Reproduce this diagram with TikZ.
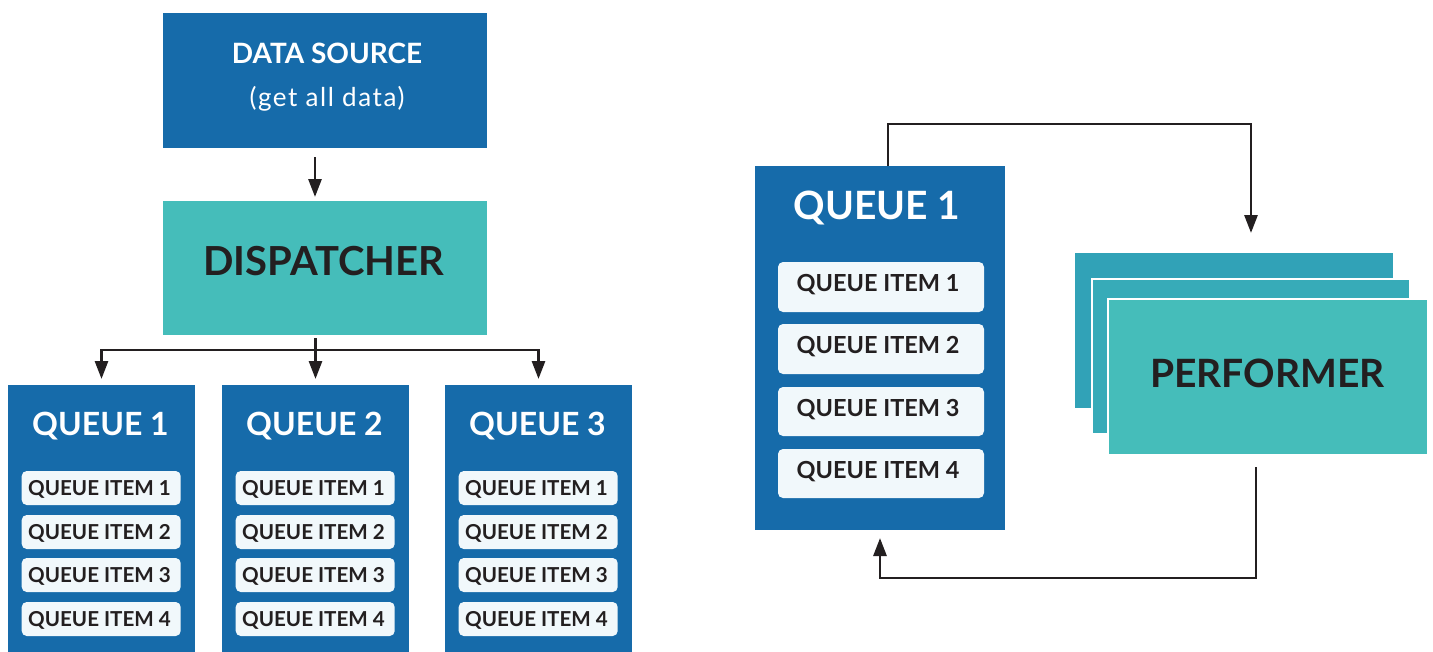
\documentclass[tikz,border=0pt]{standalone}
\usepackage{fontspec}
\setmainfont{Lato}
\usetikzlibrary{arrows.meta}
\definecolor{qblue}{HTML}{166BAA}
\definecolor{teal1}{HTML}{45BDBA}
\definecolor{teal2}{HTML}{37ABB8}
\definecolor{teal3}{HTML}{31A2B7}
\definecolor{itembg}{HTML}{F1F8FB}
\definecolor{ink}{HTML}{231F20}
\tikzset{
  box/.style={inner sep=0pt, outer sep=0pt, anchor=north west},
  bluebox/.style={box, fill=qblue},
  tealbox/.style={box, fill=teal1},
  itembox/.style={box, fill=itembg, rounded corners=5pt},
  lbl/.style={inner sep=0pt, outer sep=0pt, anchor=base},
  whitetitle/.style={lbl, text=white, font=\bfseries\fontsize{#1}{#1}\selectfont},
  inktitle/.style={lbl, text=ink, font=\bfseries\fontsize{#1}{#1}\selectfont},
  arr/.style={draw=ink, line width=2.8pt, -{Triangle[length=18pt,width=13pt]}},
}
\begin{document}
\begin{tikzpicture}[x=1pt, y=-1pt]
\useasboundingbox (0,0) rectangle (1433,651);
\clip (0,0) rectangle (1433,651);
\fill[white] (0,0) rectangle (1433,651);

% ---------- left diagram ----------
\node[bluebox, minimum width=324pt, minimum height=135pt] (ds) at (163,13) {};
\node[whitetitle=28] (dst) at (327,63) {DATA SOURCE};
\node[lbl, text=white, font=\fontsize{26}{26}\selectfont\addfontfeatures{LetterSpace=6}] (dss) at (327,106) {(get all data)};

\node[tealbox, minimum width=324pt, minimum height=134pt] (disp) at (163,201) {};
\node[inktitle=40] (dispt) at (323.5,275) {DISPATCHER};

\foreach \n/\x in {1/8,2/222,3/445}{
  \node[bluebox, minimum width=187pt, minimum height=280pt] (q\n) at (\x,385) {};
  \node[whitetitle=32] (q\n t) at (\x+92.5,435) {QUEUE \n};
  \foreach \k/\y in {1/471,2/515,3/558,4/602}{
    \node[itembox, minimum width=159pt, minimum height=34pt] (q\n i\k) at (\x+13.7,\y) {};
    \node[inktitle=20.6] (q\n i\k t) at (\x+91.5,\y+24) {QUEUE ITEM \k};
  }
}

\draw[arr, shorten <=9pt, shorten >=4pt] ([xshift=-10pt]ds.south) -- ([xshift=-10pt]disp.north);
\coordinate (bus) at (0,350);
\draw[arr, shorten <=3pt, shorten >=6pt] (disp.south -| q2.north) -- (q2.north);
\draw[arr, shorten >=6pt] (bus -| q2.north) -| (q1.north);
\draw[arr, shorten >=6pt] (bus -| q2.north) -| (q3.north);

% ---------- right diagram ----------
\node[bluebox, minimum width=250pt, minimum height=364pt] (rq) at (755,166) {};
\node[whitetitle=39] (rqt) at (877,219) {QUEUE 1};
\foreach \k/\y/\h in {1/262/50,2/324/50,3/387/49,4/449/49}{
  \node[itembox, minimum width=206pt, minimum height=\h pt] (rq i\k) at (778,\y) {};
  \node[inktitle=23.5] (rq i\k t) at (878,\y+29) {QUEUE ITEM \k};
}

\node[box, fill=teal3, minimum width=318pt, minimum height=155pt] (pb) at (1075,253) {};
\node[box, fill=teal2, draw=white, line width=2pt, minimum width=318pt, minimum height=155pt] (pm) at (1092,279) {};
\node[box, fill=teal1, draw=white, line width=2pt, minimum width=320pt, minimum height=156pt] (pf) at (1108,299) {};
\node[inktitle=39] (pft) at (1267.5,387) {PERFORMER};

\coordinate (toprail) at (0,124);
\coordinate (botrail) at (0,578);
\draw[arr, shorten >=46pt] ([xshift=8pt]rq.north) |- (toprail -| pm.north) -- (pm.north);
\draw[arr, shorten <=12pt, shorten >=8pt] ([xshift=-12pt]pf.south) |- (botrail -| rq.south) -- (rq.south);
\end{tikzpicture}
\end{document}
